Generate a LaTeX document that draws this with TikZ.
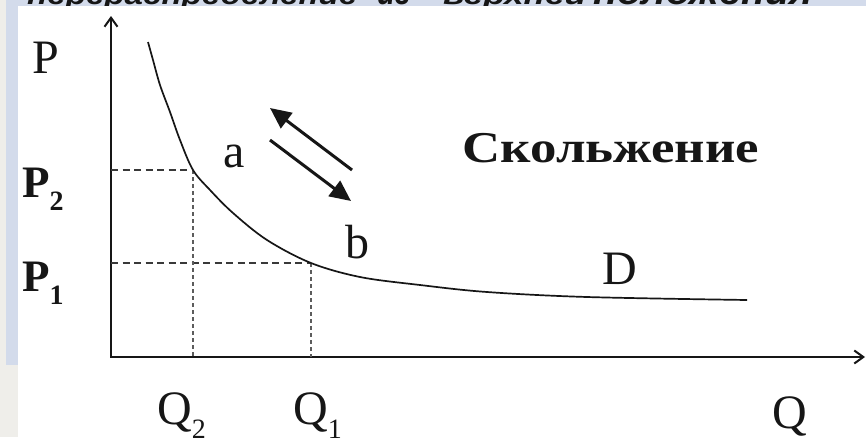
\documentclass[tikz,border=0pt]{standalone}
\usepackage{fontspec}
\setmainfont{Liberation Serif}
\newfontfamily\titlefont{Liberation Sans}
\usetikzlibrary{arrows.meta}
\definecolor{bggray}{RGB}{239,238,234}
\definecolor{bgblue}{RGB}{211,219,235}
\definecolor{ink}{RGB}{22,22,22}
\newcommand{\mysub}[1]{\raisebox{-0.3em}{\fontsize{28}{30}\selectfont #1}}
\begin{document}
\begin{tikzpicture}[x=1pt,y=-1pt,
  axis/.style={line width=2.4pt, draw=ink, line join=miter,
    {Straight Barb[length=9pt,width=13pt,line width=2pt]}-{Straight Barb[length=9pt,width=13pt,line width=2pt]}},
  guide/.style={line width=1.6pt, draw=ink!85, dash pattern=on 7pt off 4.5pt},
  vguide/.style={line width=1.6pt, draw=ink!70, dash pattern=on 4pt off 3pt},
  curve/.style={line width=1.7pt, draw=ink},
  lbl/.style={font=\fontsize{48}{50}\selectfont, text=ink, inner sep=0pt},
  blbl/.style={font=\fontsize{45}{48}\selectfont\bfseries, text=ink, inner sep=0pt},
  slide/.style={line width=3pt, draw=ink, -{Triangle[length=21pt,width=19pt]}},
  ttl/.style={font=\titlefont\bfseries\itshape\fontsize{30}{32}\selectfont, text=ink, inner sep=0pt, anchor=base west},
]
\useasboundingbox (0,0) rectangle (866,437);
% background
\fill[bggray] (0,0) rectangle (866,437);
\fill[bgblue] (6,0) rectangle (866,365);
% cut-off title (only the lower edge of its letters shows)
\node[ttl] (t1) at (27,4.5) {\resizebox{330pt}{20pt}{перераспределение}};
\node[ttl] (t2) at (377,4.5) {\resizebox{33pt}{20pt}{из}};
\node[ttl] (t3) at (443,4.5) {\resizebox{143pt}{20pt}{верхней}};
\node[ttl] (t4) at (593,4.5) {\resizebox{220pt}{20pt}{положения}};
% white panel
\fill[white] (18,5.5) rectangle (866,437);

% axes
\coordinate (O) at (111,357);
\coordinate (ytip) at (111,16);
\coordinate (xtip) at (865,357);
\draw[axis] (ytip) -- (O) -- (xtip);

% key points
\coordinate (A) at (193,170);
\coordinate (B) at (311,263);
\coordinate (P2y) at (111,170);
\coordinate (P1y) at (111,263);
\coordinate (Q2x) at (193,357);
\coordinate (Q1x) at (311,357);

\draw[guide] (P2y) -- (A);
\draw[guide] (P1y) -- (B);
\draw[vguide] (A) -- (Q2x);
\draw[vguide] (B) -- (Q1x);

% demand curve
\draw[curve] plot[smooth, tension=0.55] coordinates {
  (148,42) (153,60) (160,85) (170,112) (180,140) (A) (210,190) (233,213)
  (267,240) (B) (360,277) (420,285) (487,292) (587,297) (747,300)};

% sliding arrows
\coordinate (u1) at (352,170);
\coordinate (u2) at (270,108);
\coordinate (d1) at (270,140);
\coordinate (d2) at (351,201);
\draw[slide] (u1) -- (u2);
\draw[slide] (d1) -- (d2);

% labels
\node[lbl] (P) at (46,58) {P};
\node[blbl, anchor=base west] (P2) at (22,197) {P\mysub{2}};
\node[blbl, anchor=base west] (P1) at (22,291) {P\mysub{1}};
\node[lbl] (a) at (234,156) {a};
\node[lbl] (b) at (357,242) {b};
\node[lbl] (D) at (620,269) {D};
\node[lbl, font=\fontsize{44}{46}\selectfont\bfseries] (sk) at (611,148) {\scalebox{1.2}[1]{Скольжение}};
\node[lbl, anchor=base west] (Q2) at (157,424) {Q\mysub{2}};
\node[lbl, anchor=base west] (Q1) at (293,424) {Q\mysub{1}};
\node[lbl, anchor=base west] (Q) at (772,428) {Q};
\end{tikzpicture}
\end{document}
